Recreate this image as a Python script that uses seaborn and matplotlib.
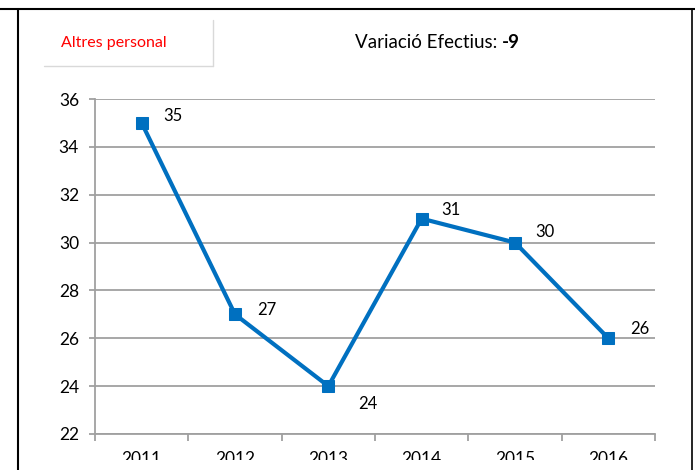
import matplotlib
matplotlib.use("Agg")
import matplotlib.pyplot as plt
from matplotlib.lines import Line2D
from matplotlib.patches import Rectangle
import seaborn as sns
import numpy as np
import pandas as pd

years = ["2011", "2012", "2013", "2014", "2015", "2016"]
values = [35, 27, 24, 31, 30, 26]
y_ticks = [22, 24, 26, 28, 30, 32, 34, 36]
box_label = "Altres personal"
title_text = "Variació Efectius: "
title_value = "-9"

sns.set_theme(style="white")
plt.rcParams["font.family"] = ["Lato", "DejaVu Sans"]

W, H = 695, 470
fig = plt.figure(figsize=(W / 100, H / 100), dpi=100)
fig.patch.set_facecolor("white")

ax = fig.add_axes([95 / W, (H - 434) / H, 560 / W, 335 / H])
df = pd.DataFrame({"pos": np.arange(len(years)), "value": values})
blue = "#0070C0"
sns.lineplot(data=df, x="pos", y="value", ax=ax, color=blue, linewidth=3,
             marker="s", markersize=9, markeredgecolor=blue, markerfacecolor=blue)

ax.set_xlim(-0.5, len(years) - 0.5)
ax.set_ylim(min(y_ticks), max(y_ticks))
ax.set_yticks(y_ticks)
ax.set_xticks(np.arange(len(years)))
ax.set_xticklabels(years)
ax.set_xticks(np.arange(len(years) + 1) - 0.5, minor=True)
ax.set_xlabel("")
ax.set_ylabel("")

grid_c = "#A0A0A0"
ax.grid(axis="y", color=grid_c, linewidth=1.3)
ax.grid(axis="x", visible=False)
for s in ["top", "right"]:
    ax.spines[s].set_visible(False)
for s in ["left", "bottom"]:
    ax.spines[s].set_color(grid_c)
    ax.spines[s].set_linewidth(1.3)
ax.tick_params(axis="x", which="major", length=0, pad=12, labelsize=12.5, labelcolor="black")
ax.tick_params(axis="x", which="minor", length=5, width=1.3, color=grid_c, bottom=True)
ax.tick_params(axis="y", which="major", length=4.5, width=1.3, color=grid_c, pad=7,
               labelsize=12.5, labelcolor="black", left=True)

offsets = [(22, 7), (22, 4), (30, -18), (20, 9), (20, 11), (22, 9)]
for i, (v, off) in enumerate(zip(values, offsets)):
    ax.annotate(str(v), xy=(i, v), xytext=off, textcoords="offset pixels",
                fontsize=12, color="black", ha="left", va="center")

# crop-like white band at bottom
fig.add_artist(Rectangle((0, 0), 1, 10 / H, transform=fig.transFigure,
                         facecolor="white", edgecolor="none", zorder=50))

# outer frame
fig.add_artist(Line2D([0, 1], [1 - 9 / H, 1 - 9 / H], color="black", linewidth=1.5,
                      transform=fig.transFigure, zorder=60))
fig.add_artist(Line2D([18 / W, 18 / W], [0, 1 - 9 / H], color="black", linewidth=1.5,
                      transform=fig.transFigure, zorder=60))
fig.add_artist(Line2D([692 / W, 692 / W], [0, 1 - 9 / H], color="black", linewidth=1.2,
                      transform=fig.transFigure, zorder=60))

# label box edges (right & bottom)
box_c = "#D9D9D9"
fig.add_artist(Line2D([44 / W, 213 / W], [1 - 66 / H, 1 - 66 / H], color=box_c, linewidth=1,
                      transform=fig.transFigure))
fig.add_artist(Line2D([213 / W, 213 / W], [1 - 20 / H, 1 - 66 / H], color=box_c, linewidth=1,
                      transform=fig.transFigure))
fig.text(61 / W, 1 - 43 / H, box_label, color="#FF0000", fontsize=11.5, ha="left", va="center")

t = fig.text(355 / W, 1 - 43 / H, title_text, color="black", fontsize=13.5, ha="left", va="center")
fig.canvas.draw()
ax.annotate(title_value, xy=(1, 0.5), xycoords=t, ha="left", va="center",
            fontsize=13.5, fontweight="bold", color="black", annotation_clip=False)

fig.savefig("out.png", dpi=100, facecolor="white")
